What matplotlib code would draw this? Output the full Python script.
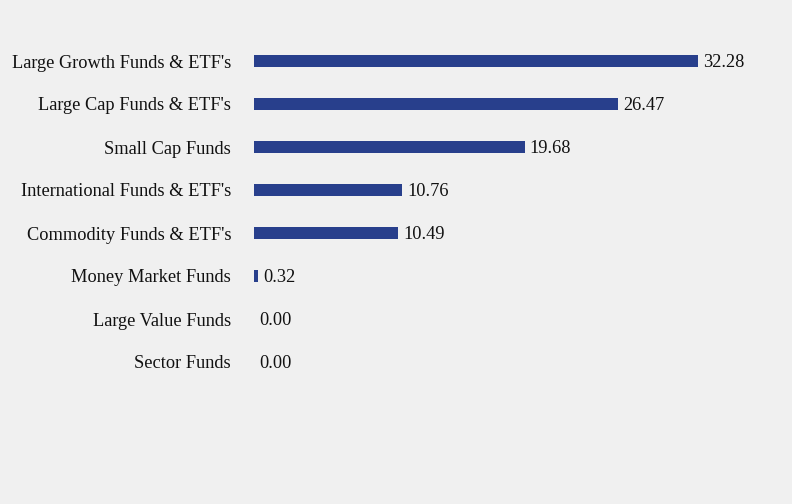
import matplotlib
matplotlib.use("Agg")
import matplotlib.pyplot as plt

# fund categories and their allocation (%)
categories = [
    "Large Growth Funds & ETF's",
    "Large Cap Funds & ETF's",
    "Small Cap Funds",
    "International Funds & ETF's",
    "Commodity Funds & ETF's",
    "Money Market Funds",
    "Large Value Funds",
    "Sector Funds",
]
values = [32.28, 26.47, 19.68, 10.76, 10.49, 0.32, 0.00, 0.00]

BG = "#F0F0F0"
BAR = "#283F8C"
W, H = 792, 504
FS = 13.2

plt.rcParams["font.family"] = ["Liberation Serif", "DejaVu Serif"]

fig = plt.figure(figsize=(W / 100, H / 100), dpi=100, facecolor=BG)
ax = fig.add_axes([254 / W, 1 - 383.5 / H, (W - 254) / W, 344 / H])
ax.set_facecolor(BG)

y = list(range(len(categories)))
ax.barh(y, values, height=0.28, color=BAR)
ax.set_xlim(0, (W - 254) / 13.75)
ax.set_ylim(len(categories) - 0.5, -0.5)

for yi, v in zip(y, values):
    ax.annotate(f"{v:.2f}", (v, yi), xytext=(3.6, -1.2), textcoords="offset points",
                va="center", ha="left", fontsize=FS, color="#111111")

ax.set_yticks(y)
ax.set_yticklabels(categories, fontsize=FS, color="#111111")
for lbl in ax.get_yticklabels():
    lbl.set_y(lbl.get_position()[1])
ax.tick_params(axis="y", length=0, pad=16.5)
ax.set_xticks([])
for s in ax.spines.values():
    s.set_visible(False)

fig.savefig("out.png", dpi=100, facecolor=BG)
